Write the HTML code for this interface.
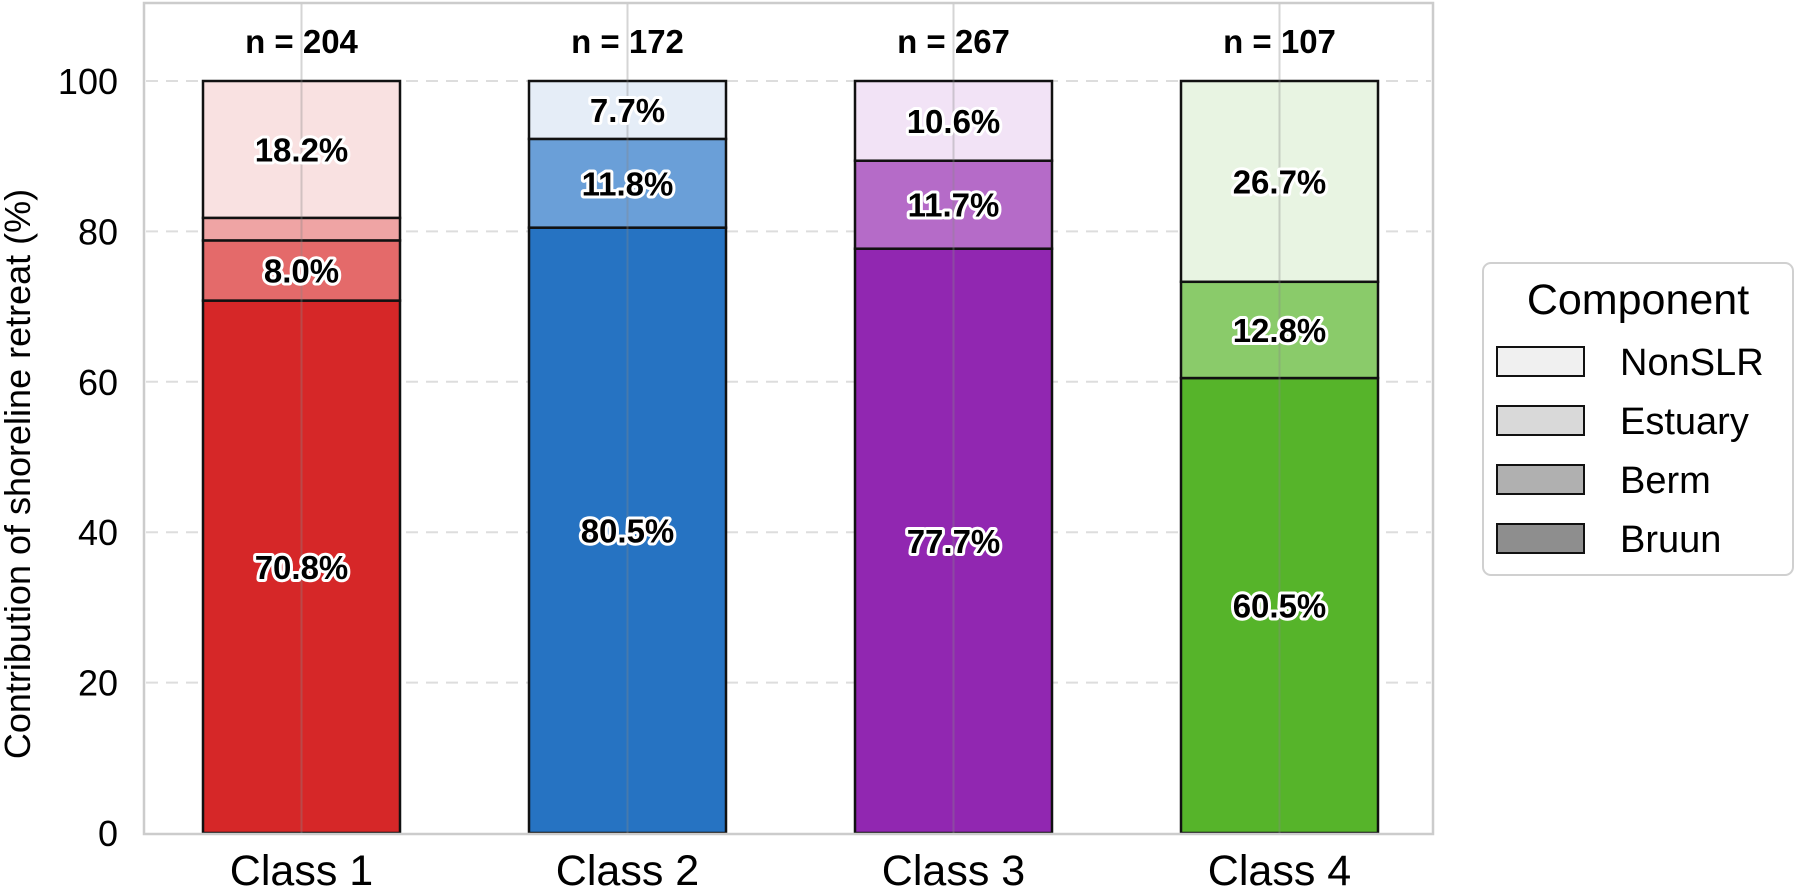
<!DOCTYPE html>
<html><head><meta charset="utf-8"><style>
html,body{margin:0;padding:0;background:#fff;}
svg{display:block;font-family:"Liberation Sans",Arial,sans-serif;}
.lbl{font-weight:bold;font-size:33px;fill:#000;stroke:#fff;stroke-width:6px;paint-order:stroke;stroke-linejoin:round;}
</style></head><body>
<svg id="chart" width="1799" height="896" viewBox="0 0 1799 896">
<g id="grid"></g>
<g id="bars"></g>
<g id="vgrid"></g>
<g id="labels"></g>
<rect x="144" y="3" width="1289" height="831" fill="none" stroke="#cccccc" stroke-width="2.5"/>
<g id="yticks"></g>
<g id="xticks"></g>
<text transform="translate(30,474) rotate(-90)" text-anchor="middle" font-size="36" fill="#000">Contribution of shoreline retreat (%)</text>
<g>
<rect x="1483" y="263" width="310" height="312" rx="8" fill="#fff" stroke="#d0d0d0" stroke-width="2"/>
<text x="1638" y="314" text-anchor="middle" font-size="43" fill="#000">Component</text>
<g id="legend-items"></g>
</g>
</svg>
<script>
const categories = ["Class 1","Class 2","Class 3","Class 4"];
const counts = [204,172,267,107];
const components = ["Bruun","Berm","Estuary","NonSLR"];
const bruun = [70.8,80.5,77.7,60.5];
const berm = [8.0,11.8,11.7,12.8];
const estuary = [3.0,0,0,0];
const nonslr = [18.2,7.7,10.6,26.7];
const yTicks = [0,20,40,60,80,100];

const series=[bruun,berm,estuary,nonslr];
const palette=[
 ["#d62728","#e46a6a","#efa4a4","#f9e1e1"],
 ["#2673c2","#6a9fd8","#b0cbea","#e5edf7"],
 ["#9127b1","#b56bc8","#d8b2e3","#f2e3f6"],
 ["#56b42a","#8acb6a","#c4e4b3","#e8f4e2"]];
const legendColors=["#f0f0f0","#d9d9d9","#b0b0b0","#8e8e8e"];
const NS="http://www.w3.org/2000/svg";
const y=v=>833-v*7.52;
const x=i=>301.5+i*326;
const bw=197;
function mk(tag,attrs,parent){const e=document.createElementNS(NS,tag);for(const k in attrs)e.setAttribute(k,attrs[k]);parent.appendChild(e);return e;}
const grid=document.getElementById('grid'),bars=document.getElementById('bars'),vg=document.getElementById('vgrid'),labels=document.getElementById('labels'),yt=document.getElementById('yticks'),xt=document.getElementById('xticks');
yTicks.forEach(t=>{
 if(t>0){const l=mk('line',{x1:146,x2:1431,y1:y(t),y2:y(t),stroke:'#dddddd','stroke-width':2,'stroke-dasharray':'12,8'},grid);
 }
 const tx=mk('text',{x:118,y:y(t)+13,'text-anchor':'end','font-size':36,fill:'#000'},yt);tx.textContent=t;
 
});
categories.forEach((c,i)=>{
 let base=0;
 series.forEach((s,j)=>{
  const v=s[i];
  if(v>0){
   const r=mk('rect',{x:x(i)-bw/2,y:y(base+v),width:bw,height:y(base)-y(base+v),fill:palette[i][j],stroke:'#111','stroke-width':2.5},bars);
   
   
   if(v>=5){const t=mk('text',{x:x(i),y:y(base+v/2)+12,'text-anchor':'middle',class:'lbl'},labels);t.textContent=v.toFixed(1)+'%';
    }
  }
  base+=v;
 });
 const vl=mk('line',{x1:x(i),x2:x(i),y1:4,y2:833,stroke:'#888','stroke-opacity':0.35,'stroke-width':2},vg);
 
 const n=mk('text',{x:x(i),y:y(100)-28,'text-anchor':'middle','font-size':33,'font-weight':'bold',fill:'#000'},labels);n.textContent='n = '+counts[i];
 
 const xl=mk('text',{x:x(i),y:885,'text-anchor':'middle','font-size':43,fill:'#000'},xt);xl.textContent=c;
 
});
const li=document.getElementById('legend-items');
["NonSLR","Estuary","Berm","Bruun"].forEach((n,k)=>{
 const r=mk('rect',{x:1497,y:347+k*59,width:87,height:29,fill:legendColors[k],stroke:'#111','stroke-width':2},li);
 
 const t=mk('text',{x:1620,y:375+k*59,'font-size':38,fill:'#000'},li);t.textContent=n;
 
});
</script>
</body></html>
